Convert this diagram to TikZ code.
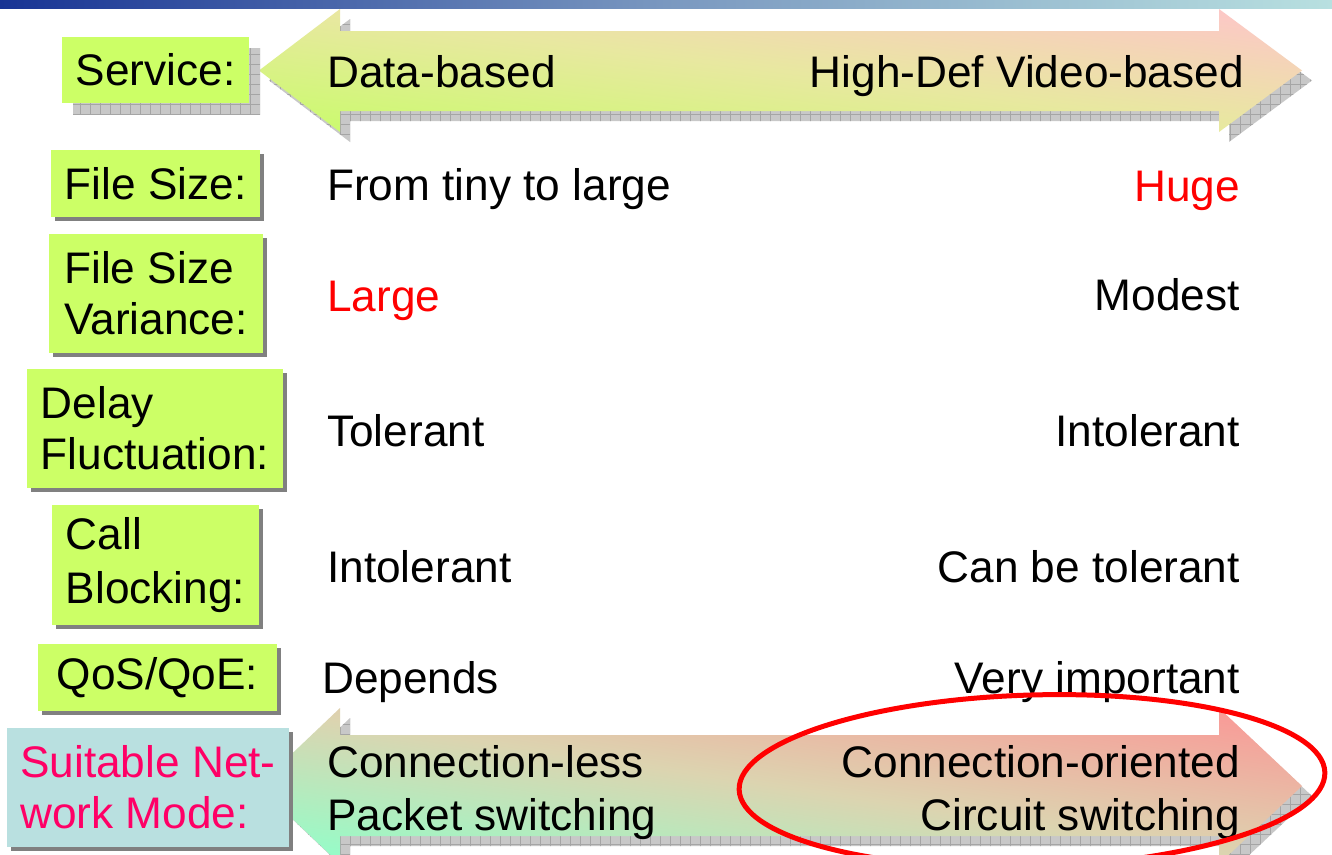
\documentclass[tikz,border=0pt]{standalone}
\usepackage{fontspec}
\setmainfont{Liberation Sans}
\usepackage{xcolor}
\usepackage{tikz}
\usetikzlibrary{shadows,patterns.meta}

\definecolor{limegreen}{RGB}{204,255,102}
\definecolor{palecyan}{RGB}{185,224,224}
\definecolor{shadowgrey}{RGB}{128,128,128}
\definecolor{checkgrey}{RGB}{200,200,200}
\definecolor{gridgrey}{RGB}{165,165,165}
\definecolor{modered}{RGB}{255,0,102}
\definecolor{bannerblue}{RGB}{24,52,148}
\definecolor{bannermid}{RGB}{122,152,192}
\definecolor{bannercyan}{RGB}{184,224,224}
\definecolor{upgreen}{RGB}{204,250,112}
\definecolor{upmid}{RGB}{232,232,160}
\definecolor{uppink}{RGB}{252,200,198}
\definecolor{lowmint}{RGB}{150,252,200}
\definecolor{lowmid}{RGB}{220,212,176}
\definecolor{lowpink}{RGB}{248,156,152}

\newcommand{\slidefont}{\fontsize{44.2}{51}\selectfont}

% double headed block arrow: options, x of left tip, left head, right head,
% right tip, then y of head top, shaft top, shaft bottom, head bottom
\newcommand{\dblarrow}[9]{%
  \path[#1] (#2,{(#6+#9)/2}) -- (#3,#6) -- (#3,#7) -- (#4,#7) -- (#4,#6)
    -- (#5,{(#6+#9)/2}) -- (#4,#9) -- (#4,#8) -- (#3,#8) -- (#3,#9) -- cycle;}

\tikzset{
  box/.style={align=left, inner sep=0pt, font=\slidefont},
  sh/.style={drop shadow={shadow xshift=4pt, shadow yshift=-4pt, fill=shadowgrey, opacity=1}},
  checker/.style={preaction={fill=checkgrey}, pattern={Hatch[distance=10pt, line width=0.6pt]}, pattern color=gridgrey},
  val/.style={inner sep=0pt, font=\slidefont}
}

\begin{document}
\begin{tikzpicture}[x=1pt, y=-1pt]
\useasboundingbox (0,0) rectangle (1332,854);
\clip (0,0) rectangle (1332,854);
\fill[white] (0,0) rectangle (1332,854);
\shade[left color=bannerblue, right color=bannercyan, middle color=bannermid] (0,0) rectangle (1332,8);

% service arrow
\dblarrow{checker, shift={(10,10)}}{259}{340}{1219}{1302}{9}{31}{111}{132}
\dblarrow{top color=uppink, bottom color=upgreen, middle color=upmid, shading angle=-7}{259}{340}{1219}{1302}{9}{31}{111}{132}

% network mode arrow
\dblarrow{checker, shift={(10,10)}}{258}{340}{1219}{1302}{708}{735}{836}{864}
\dblarrow{top color=lowpink, bottom color=lowmint, middle color=lowmid, shading angle=-8.5}{258}{340}{1219}{1302}{708}{735}{836}{864}

% labels
\fill[checker] (73,48) rectangle (260,114);
\node[box, fill=limegreen, minimum width=187, minimum height=66] (svc) at (155.5,70) {Service:};
\node[box, sh, fill=limegreen, minimum width=209, minimum height=67] (fsize) at (155.5,183.5) {File Size:};
\node[box, sh, fill=limegreen, minimum width=214, minimum height=119] (fvar) at (156,293.5) {File Size\\Variance:};
\node[box, sh, fill=limegreen, minimum width=256, minimum height=119] (dly) at (155,428.5) {Delay\\Fluctuation:};
\node[box, sh, fill=limegreen, minimum width=207, minimum height=120] (blk) at (155.5,565) {Call\\[3pt]Blocking:};
\node[box, sh, fill=limegreen, minimum width=239, minimum height=67] (qos) at (157.5,677.5) {QoS/QoE:};
\node[box, sh, fill=palecyan, text=modered, minimum width=282, minimum height=119] (mode) at (148,787.5) {Suitable Net-\\work Mode:};

% values
\node[val, anchor=base west] (svcL) at (327,87) {Data-based};
\node[val, anchor=base east] (svcR) at (1244,87) {High-Def Video-based};
\node[val, anchor=base west] (sizeL) at (327,200) {From tiny to large};
\node[val, anchor=base east, text=red] (sizeR) at (1240,201) {Huge};
\node[val, anchor=base west, text=red] (varL) at (327,311) {Large};
\node[val, anchor=base east] (varR) at (1240,310) {Modest};
\node[val, anchor=base west] (dlyL) at (327,446) {Tolerant};
\node[val, anchor=base east] (dlyR) at (1240,446) {Intolerant};
\node[val, anchor=base west] (blkL) at (327,582) {Intolerant};
\node[val, anchor=base east] (blkR) at (1240,582) {Can be tolerant};
\node[val, anchor=base west] (qosL) at (322,693) {Depends};
\node[val, anchor=base east] (qosR) at (1240,693) {Very important};
\node[val, anchor=base west] (modeL1) at (327,777) {Connection-less};
\node[val, anchor=base west] (modeL2) at (327,830) {Packet switching};
\node[val, anchor=base east] (modeR1) at (1240,777) {Connection-oriented};
\node[val, anchor=base east] (modeR2) at (1240,830) {Circuit switching};

\draw[red, line width=5pt, rotate around={1.7:(1032,781)}] (1032,781) ellipse (293 and 86);
\end{tikzpicture}
\end{document}
